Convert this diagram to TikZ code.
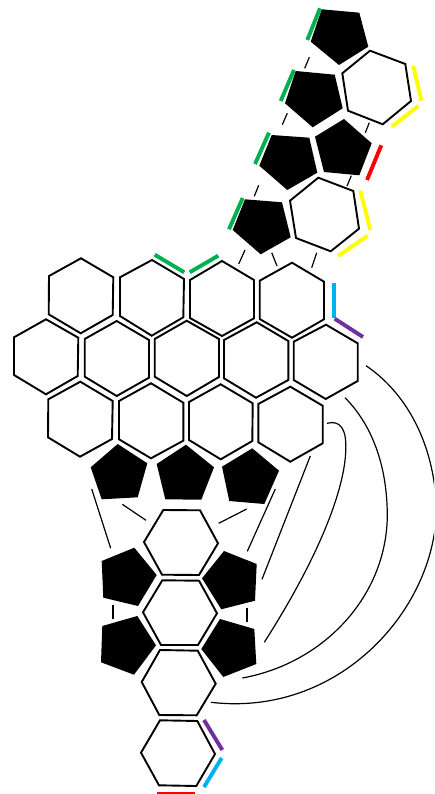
\documentclass[tikz,border=0pt]{standalone}
\usepackage{xcolor}
\usepackage{tikz}

\definecolor{edgegreen}{HTML}{00B050}
\definecolor{edgeyellow}{HTML}{FFFF00}
\definecolor{edgered}{HTML}{FF0000}
\definecolor{edgeblue}{HTML}{00B0F0}
\definecolor{edgepurple}{HTML}{7030A0}

\begin{document}
\begin{tikzpicture}[
  x=1pt, y=-1pt,
  hexcell/.style={draw=black, line width=1.9pt, line join=miter},
  pentcell/.style={fill=black},
  bond/.style={draw=black, line width=1.2pt},
  mark green/.style={draw=edgegreen, line width=3.9pt},
  mark yellow/.style={draw=edgeyellow, line width=3.9pt},
  mark red/.style={draw=edgered, line width=3.9pt},
  mark blue/.style={draw=edgeblue, line width=3.9pt},
  mark purple/.style={draw=edgepurple, line width=3.9pt},
]
  \useasboundingbox (0,0) rectangle (434,794);
  \clip (0,0) rectangle (434,794);

  % ── Upper chain: pentagons ──
  \fill[pentcell] (321.7,9.3) -- (359.3,12.7) -- (368.3,46.7) -- (339,65) -- (310.7,41.7) -- cycle;
  \fill[pentcell] (295.7,71) -- (334.7,74.7) -- (342.7,108.3) -- (312.7,127.3) -- (285,103.3) -- cycle;
  \fill[pentcell] (344,119) -- (371.7,143.3) -- (359.3,175.3) -- (324,172) -- (315,136.7) -- cycle;
  \fill[pentcell] (271.7,135) -- (309.3,137.7) -- (317.3,172.7) -- (287.3,190) -- (259.3,165.7) -- cycle;
  \fill[pentcell] (245,199.3) -- (282,202.3) -- (290.7,237.3) -- (260.7,254.3) -- (232.7,230) -- cycle;

  % ── Upper chain: hexagons ──
  \draw[hexcell] (370,50.7) -- (405.3,64) -- (411,101) -- (382.7,124.3) -- (348,110.7) -- (342.3,73.3) -- cycle;
  \draw[hexcell] (318.3,177.7) -- (353.3,191) -- (359,228.7) -- (330.7,251.3) -- (296,238) -- (290,200.7) -- cycle;

  % ── Upper chain: coloured edges ──
  \draw[mark green] (320,8.3) -- (307.3,40);
  \draw[mark green] (294,70) -- (280.7,101);
  \draw[mark green] (269,132.7) -- (255,164);
  \draw[mark green] (242.7,198) -- (229,229.3);
  \draw[mark yellow] (413.3,66) -- (421.3,100.7);
  \draw[mark yellow] (418.3,106) -- (392,126.7);
  \draw[mark yellow] (360.3,190.7) -- (370.3,230);
  \draw[mark yellow] (367.7,235.7) -- (338,256);
  \draw[mark red] (381.3,145.3) -- (367,180);

  % ── Upper chain: short bonds ──
  \draw[bond] (309.3,57.3) -- (304.7,68.3);
  \draw[bond] (287.3,113.3) -- (282.3,124.7);
  \draw[bond] (258.7,185.3) -- (254.3,196.3);
  \draw[bond] (369.3,122.7) -- (365.3,132.7);
  \draw[bond] (351.3,175.7) -- (347,186);
  \draw[bond] (245,250) -- (238.7,264);
  \draw[bond] (271.7,252.7) -- (277,266);
  \draw[bond] (316.7,252.7) -- (311.7,267.7);

  % ── Sheet: row 1 ──
  \draw[hexcell] (81,258.3) -- (113.3,277.3) -- (112.7,315) -- (80.7,333.3) -- (48.7,314.3) -- (49,276) -- cycle;
  \draw[hexcell] (152,260) -- (184,279) -- (183.3,317.3) -- (151.7,335.7) -- (120,316) -- (120,277.3) -- cycle;
  \draw[hexcell] (222,261) -- (254,280) -- (254,318.3) -- (222,336) -- (190,318) -- (190,280) -- cycle;
  \draw[hexcell] (292,262.7) -- (324,281.7) -- (324,319.3) -- (292,337.7) -- (259.7,319) -- (259.7,280.7) -- cycle;

  % ── Sheet: row 2 ──
  \draw[hexcell] (46,319.3) -- (78.3,337.7) -- (77.7,376) -- (46,394.3) -- (14,375) -- (14,337.3) -- cycle;
  \draw[hexcell] (116.7,321) -- (149,340) -- (149,377.7) -- (116.7,396) -- (84.7,376.7) -- (84.7,339) -- cycle;
  \draw[hexcell] (186.7,320.7) -- (219,339) -- (219,377) -- (186.7,396) -- (154.7,376.7) -- (154.7,339) -- cycle;
  \draw[hexcell] (256.7,322.3) -- (288.3,341) -- (288.3,380) -- (256,397.7) -- (224,378.3) -- (224,340) -- cycle;
  \draw[hexcell] (326,324.7) -- (357.7,343.3) -- (357.7,381) -- (325.7,399) -- (293.7,380) -- (293.7,341.7) -- cycle;

  % ── Sheet: row 3 ──
  \draw[hexcell] (80.3,381.7) -- (112.7,401) -- (112,439) -- (80,456.7) -- (48,437.3) -- (48.3,399.3) -- cycle;
  \draw[hexcell] (151,383.3) -- (183.3,402.7) -- (183.3,440.7) -- (151,458.3) -- (119,439.3) -- (119,401) -- cycle;
  \draw[hexcell] (220.7,384.3) -- (252.7,403.3) -- (252.3,441) -- (220.7,459.3) -- (189,440) -- (189,402) -- cycle;
  \draw[hexcell] (290.3,386.7) -- (322.7,405.7) -- (322.7,443.3) -- (290.3,461.7) -- (258.3,442.3) -- (258.3,404) -- cycle;

  % ── Sheet: coloured edges ──
  \draw[mark green] (154.7,254.7) -- (184.3,272.3);
  \draw[mark green] (189.7,272.3) -- (218.3,255.7);
  \draw[mark blue] (333.7,283) -- (333.7,318.3);
  \draw[mark purple] (334.7,318.7) -- (363,337);

  % ── Pentagons below the sheet ──
  \fill[pentcell] (117.7,444) -- (147.3,463.3) -- (137.7,497.3) -- (101.7,499.3) -- (90.7,467.3) -- cycle;
  \fill[pentcell] (186,444.7) -- (214,467.3) -- (201.3,499.7) -- (165.3,499.3) -- (156.7,464) -- cycle;
  \fill[pentcell] (252.3,448.3) -- (279,470.7) -- (264.3,504) -- (229.3,501) -- (222,466.7) -- cycle;

  % ── Lower chain: hexagons ──
  \draw[hexcell] (163.3,510) -- (200,510.3) -- (218,543.3) -- (199,575) -- (162,574.7) -- (144,542) -- cycle;
  \draw[hexcell] (162.3,580.3) -- (199,580.7) -- (217,613.3) -- (198,645) -- (161,645) -- (143,612.3) -- cycle;
  \draw[hexcell] (160,650) -- (197.7,650.7) -- (215.7,683.7) -- (196.7,715.3) -- (159.3,715) -- (141.7,682) -- cycle;
  \draw[hexcell] (160,720.3) -- (197.3,721) -- (215,754) -- (196.3,786) -- (159,785.3) -- (141,752.7) -- cycle;

  % ── Lower chain: pentagons ──
  \fill[pentcell] (134.3,547.7) -- (156.7,575) -- (138,606) -- (103.3,597.7) -- (101.7,561) -- cycle;
  \fill[pentcell] (224,551) -- (256.7,564) -- (255,600.7) -- (221.3,609.3) -- (202,578.3) -- cycle;
  \fill[pentcell] (137.3,616) -- (156,645.3) -- (134,674.7) -- (101,662.3) -- (102.3,626) -- cycle;
  \fill[pentcell] (220,619) -- (254.3,629) -- (256.3,664) -- (223.3,677) -- (201.3,649) -- cycle;

  % ── Lower chain: coloured edges ──
  \draw[mark purple] (204,720) -- (222.3,750);
  \draw[mark blue] (221.7,758) -- (204,787);
  \draw[mark red] (157.3,794.2) -- (195.3,794.2);

  % ── Lower chain: straight bonds ──
  \draw[bond] (91.7,489) -- (110.7,548.3);
  \draw[bond] (122.3,504.3) -- (146,520.3);
  \draw[bond] (246.7,509) -- (218.7,523.3);
  \draw[bond] (275.3,489) -- (247.3,551.3);
  \draw[bond] (310.3,456) -- (262,579.3);
  \draw[bond] (113,605.3) -- (113,619.3);
  \draw[bond] (247,607.7) -- (247,621.7);

  % ── Long curved bonds ──
  \draw[bond] (327,423.3) .. controls (340,420) and (347,428) .. (345.7,452)
    .. controls (344,490) and (320,555) .. (264.3,642.3);
  \draw[bond] (345,397.7) .. controls (372,425) and (387,465) .. (387.3,515)
    .. controls (387,595) and (325,663) .. (242.3,678);
  \draw[bond] (366,365.7) .. controls (405,392) and (432,440) .. (436,500)
    .. controls (442,600) and (345,718) .. (211,702.3);

\end{tikzpicture}
\end{document}
